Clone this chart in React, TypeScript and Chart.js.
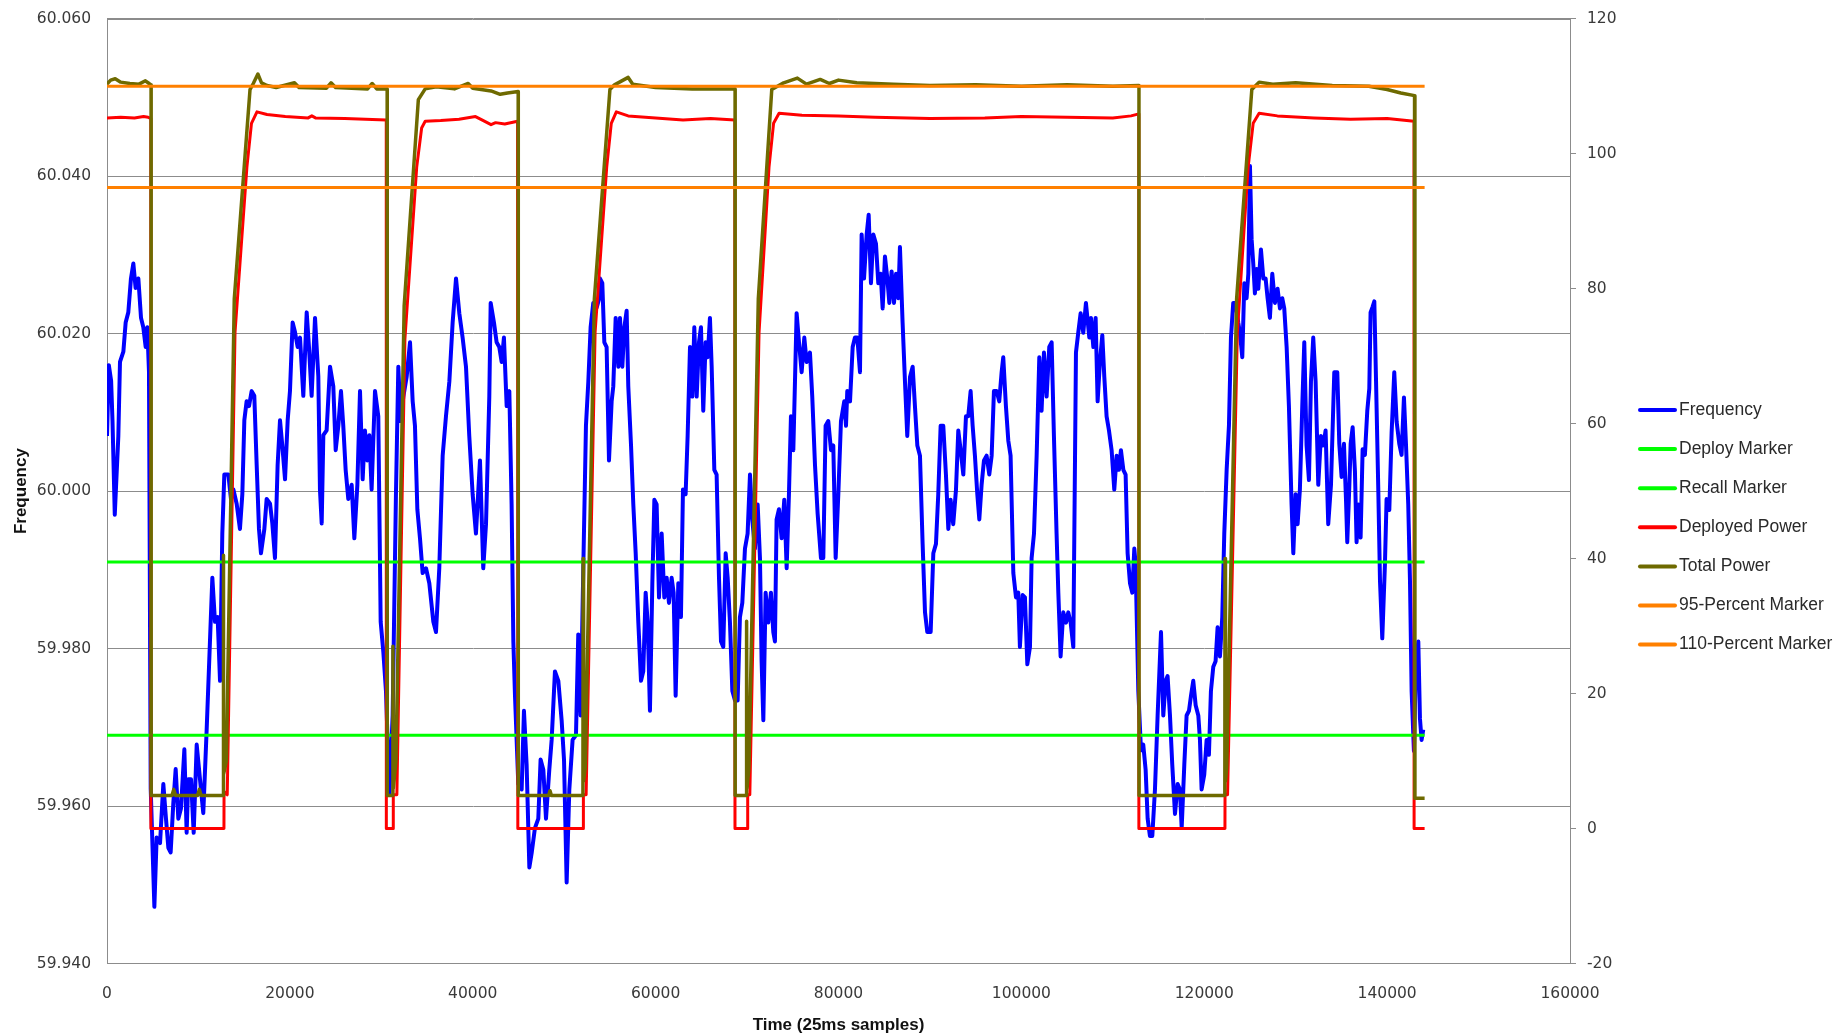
import React, { useEffect, useRef } from 'react';
import { Chart, registerables } from 'chart.js';

Chart.register(...registerables);

// ---- data (time in 25 ms samples) ----
const FREQUENCY: [number, number][] = [
  [0, 60.007], [200, 60.016], [450, 60.014], [600, 60.009], [850, 59.997], [1240, 60.007], [1420, 60.0164], [1790, 60.0177], [2040, 60.0214], [2330, 60.0227], [2620, 60.027], [2880, 60.0289], [3130, 60.0258], [3430, 60.027], [3720, 60.022], [3970, 60.0208], [4230, 60.0183], [4410, 60.0208], [4590, 60.0152], [4780, 59.9622], [5180, 59.9472], [5430, 59.956], [5800, 59.9553], [6160, 59.9628], [6450, 59.9584], [6710, 59.9547], [6960, 59.9541], [7250, 59.9603], [7510, 59.9647], [7800, 59.9584], [8090, 59.9597], [8460, 59.9672], [8710, 59.9566], [8890, 59.9634], [9190, 59.9634], [9480, 59.9566], [9810, 59.9678], [10170, 59.9634], [10530, 59.9591], [10900, 59.9697], [11260, 59.9809], [11520, 59.989], [11810, 59.9834], [12100, 59.984], [12360, 59.9759], [12610, 59.9946], [12830, 60.0021], [13270, 60.0021], [13560, 59.999], [13820, 60.0002], [14180, 59.9984], [14540, 59.9952], [14800, 59.9996], [15020, 60.009], [15270, 60.0114], [15530, 60.0108], [15820, 60.0127], [16110, 60.0121], [16370, 60.0033], [16620, 59.9952], [16840, 59.9921], [17210, 59.9952], [17460, 59.999], [17830, 59.9984], [18080, 59.9959], [18370, 59.9915], [18660, 60.0033], [18920, 60.009], [19170, 60.0058], [19470, 60.0015], [19760, 60.009], [20010, 60.0127], [20300, 60.0214], [20560, 60.0202], [20850, 60.0183], [21110, 60.0195], [21470, 60.0121], [21840, 60.0227], [22090, 60.0183], [22380, 60.0121], [22750, 60.022], [23110, 60.0146], [23290, 60.0002], [23480, 59.9959], [23660, 60.0071], [24020, 60.0077], [24390, 60.0158], [24750, 60.0133], [25010, 60.0052], [25300, 60.0083], [25590, 60.0127], [25840, 60.0083], [26100, 60.0027], [26390, 59.999], [26760, 60.0008], [27050, 59.994],
  [27380, 60.0008], [27670, 60.0127], [27960, 60.0015], [28210, 60.0077], [28470, 60.0039], [28690, 60.0071], [28940, 60.0002], [29310, 60.0127], [29670, 60.0095], [29930, 59.9834], [30220, 59.9796], [30510, 59.9746], [30880, 59.9615], [31240, 59.9715], [31600, 59.9996], [31860, 60.0158], [32110, 60.0089], [32410, 60.012], [32770, 60.0145], [33140, 60.0189], [33430, 60.0114], [33680, 60.0083], [33940, 59.9977], [34230, 59.994], [34520, 59.9896], [34890, 59.9902], [35250, 59.9883], [35690, 59.9834], [35980, 59.9821], [36340, 59.9902], [36710, 60.0045], [37070, 60.0095], [37440, 60.0139], [37800, 60.0214], [38170, 60.027], [38530, 60.0226], [38890, 60.0195], [39260, 60.0158], [39620, 60.007], [39990, 59.9996], [40350, 59.9946], [40790, 60.0039], [41150, 59.9902], [41450, 59.9958], [41810, 60.012], [41960, 60.0239], [42320, 60.0214], [42610, 60.0189], [42900, 60.0183], [43160, 60.0164], [43410, 60.0195], [43710, 60.0108], [44000, 60.0127], [44250, 59.9983], [44440, 59.9809], [44620, 59.974], [44980, 59.9628], [45350, 59.9621], [45600, 59.9721], [45890, 59.9653], [46190, 59.9522], [46440, 59.954], [46800, 59.9572], [47170, 59.9584], [47420, 59.9659], [47720, 59.9646], [48010, 59.9584], [48370, 59.9646], [48630, 59.9684], [48990, 59.9771], [49360, 59.9759], [49720, 59.9709], [49980, 59.9659], [50270, 59.9503], [50560, 59.9621], [50920, 59.9684], [51290, 59.969], [51540, 59.9818], [51800, 59.9715], [52090, 59.9902], [52380, 60.0083], [52640, 60.0139], [52890, 60.0208], [53180, 60.0239], [53550, 60.0233], [53840, 60.0245],
  [53920, 60.027], [54170, 60.0264], [54390, 60.0189], [54640, 60.0183], [54900, 60.0039], [55190, 60.0114], [55370, 60.0133], [55630, 60.022], [55920, 60.0158], [56100, 60.022], [56360, 60.0158], [56580, 60.0208], [56830, 60.0229], [57010, 60.0133], [57310, 60.0058], [57560, 59.9983], [57820, 59.9921], [58110, 59.9833], [58400, 59.9759], [58650, 59.9771], [58910, 59.9871], [59130, 59.9833], [59380, 59.9721], [59640, 59.9883], [59860, 59.9989], [60110, 59.9983], [60370, 59.9865], [60660, 59.9946], [60950, 59.9865], [61210, 59.989], [61460, 59.9858], [61750, 59.989], [61970, 59.9871], [62190, 59.974], [62480, 59.9883], [62770, 59.984], [62990, 60.0002], [63280, 59.9996], [63500, 60.007], [63760, 60.0183], [64010, 60.012], [64230, 60.0208], [64490, 60.012], [64740, 60.0189], [64960, 60.0208], [65210, 60.0102], [65470, 60.0189], [65690, 60.017], [65940, 60.022], [66130, 60.0158], [66420, 60.0027], [66670, 60.0021], [66930, 59.989], [67150, 59.9809], [67400, 59.9802], [67660, 59.9921], [67880, 59.989], [68130, 59.9833], [68390, 59.9746], [68680, 59.9734], [68970, 59.9734], [69220, 59.984], [69480, 59.9858], [69770, 59.9927], [70060, 59.9946], [70320, 60.0021], [70570, 59.9964], [70860, 59.9927], [71160, 59.9983], [71410, 59.9915], [71590, 59.9784], [71780, 59.9709], [72030, 59.9871], [72320, 59.9833], [72610, 59.9871], [72870, 59.9821], [73050, 59.9809], [73230, 59.9964], [73490, 59.9977], [73780, 59.994], [74070, 59.9989], [74330, 59.9902], [74580, 59.9996], [74800, 60.0095], [75060, 60.0052], [75240, 60.0139], [75420, 60.0226], [75680, 60.0189], [75970, 60.0151], [76260, 60.0195], [76510, 60.0164], [76880, 60.0176], [77130, 60.012], [77430, 60.0033], [77720, 59.9971], [78080, 59.9915], [78340, 59.9915], [78590, 60.0083], [78880, 60.0089], [79180, 60.0052], [79430, 60.0058], [79690, 59.9915], [79980, 59.9996], [80270, 60.0089], [80630, 60.0114],
  [80820, 60.0083], [80960, 60.0127], [81260, 60.0114], [81550, 60.0183], [81800, 60.0195], [82060, 60.0195], [82350, 60.0151], [82530, 60.0326], [82790, 60.027], [83080, 60.0326], [83300, 60.0351], [83550, 60.0264], [83810, 60.0326], [84100, 60.0314], [84350, 60.0264], [84610, 60.0276], [84830, 60.0232], [85080, 60.0298], [85340, 60.027], [85560, 60.0239], [85810, 60.0279], [86070, 60.0239], [86290, 60.0276], [86540, 60.0245], [86720, 60.031], [87010, 60.0214], [87270, 60.0139], [87520, 60.007], [87820, 60.0145], [88110, 60.0158], [88360, 60.0108], [88620, 60.0058], [88910, 60.0045], [89200, 59.9933], [89460, 59.9846], [89710, 59.9821], [90080, 59.9821], [90370, 59.9921], [90660, 59.9933], [90910, 59.9996], [91170, 60.0083], [91460, 60.0083], [91750, 60.0021], [92010, 59.9952], [92260, 59.9989], [92550, 59.9958], [92850, 60.0002], [93100, 60.0077], [93360, 60.0052], [93650, 60.0021], [93940, 60.0095], [94190, 60.0095], [94450, 60.0127], [94670, 60.0083], [94920, 60.0045], [95180, 59.9996], [95400, 59.9964], [95650, 60.0008], [95910, 60.0039], [96200, 60.0045], [96490, 60.0021], [96750, 60.0045], [97000, 60.0127], [97290, 60.0127], [97580, 60.0114], [97840, 60.0151], [98020, 60.017], [98310, 60.0108], [98570, 60.0064], [98820, 60.0045], [99120, 59.9896], [99410, 59.9865], [99660, 59.9871], [99840, 59.9802], [100140, 59.9868], [100390, 59.9865], [100650, 59.978], [100940, 59.9802], [101120, 59.9915], [101380, 59.9946], [101670, 60.0045], [101960, 60.017], [102210, 60.0102], [102470, 60.0176], [102760, 60.012], [103050, 60.0183], [103310, 60.0189], [103560, 60.007], [103850, 59.9946], [104040, 59.9871], [104290, 59.979], [104580, 59.9846], [104880, 59.9833], [105130, 59.9846], [105390, 59.9833], [105680, 59.9802], [105970, 60.0176], [106220, 60.0201], [106480, 60.0226], [106770, 60.0201], [107060, 60.0239], [107430, 60.0195],
  [107610, 60.022], [107870, 60.0183], [108120, 60.022], [108340, 60.0114], [108590, 60.0164], [108850, 60.0198], [109070, 60.0145], [109320, 60.0095], [109580, 60.0077], [109870, 60.0052], [110160, 60.0002], [110420, 60.0045], [110670, 60.0027], [110890, 60.0052], [111150, 60.0027], [111400, 60.0021], [111620, 59.9921], [111880, 59.9883], [112130, 59.9871], [112350, 59.9927], [112490, 59.9908], [112790, 59.9746], [113080, 59.9671], [113330, 59.9678], [113590, 59.9646], [113810, 59.9584], [114060, 59.9562], [114320, 59.9562], [114610, 59.9621], [114900, 59.9715], [115270, 59.9821], [115520, 59.9715], [115780, 59.9759], [115990, 59.9765], [116250, 59.9715], [116500, 59.9653], [116800, 59.959], [117090, 59.9628], [117340, 59.9621], [117530, 59.9572], [117820, 59.9653], [118070, 59.9715], [118330, 59.9721], [118550, 59.974], [118800, 59.9759], [119060, 59.9728], [119350, 59.9715], [119530, 59.9684], [119710, 59.9621], [120000, 59.964], [120260, 59.9684], [120510, 59.9665], [120730, 59.9746], [120990, 59.9777], [121240, 59.9784], [121460, 59.9827], [121720, 59.979], [121970, 59.984], [122190, 59.9946], [122450, 60.0027], [122700, 60.0083], [122920, 60.0195], [123170, 60.0239], [123430, 60.0239], [123720, 60.0214], [123900, 60.0201], [124160, 60.017], [124380, 60.0264], [124630, 60.0245], [124820, 60.0276], [125000, 60.0413], [125180, 60.032], [125360, 60.0289], [125540, 60.0251], [125730, 60.0282], [125910, 60.0257], [126200, 60.0307], [126460, 60.027], [126710, 60.027], [126930, 60.0245], [127180, 60.022], [127440, 60.0276], [127730, 60.0239], [128020, 60.0257], [128280, 60.0232], [128530, 60.0245], [128750, 60.0232], [129010, 60.0183], [129260, 60.0108], [129550, 59.9983], [129740, 59.9921], [129990, 59.9996], [130210, 59.9958], [130460, 60.0002], [130720, 60.0108], [130940, 60.0189], [131190, 60.0058], [131450, 60.0014], [131670, 60.0139], [131920, 60.0195], [132180, 60.0139], [132470, 60.0008], [132760, 60.007], [133020, 60.0058], [133270, 60.0077], [133560, 59.9958], [133860, 60.0008], [134220, 60.0151],
  [134550, 60.0151], [134770, 60.006], [135020, 60.0018], [135280, 60.006], [135500, 59.999], [135640, 59.9935], [135860, 60.0004], [136010, 60.006], [136230, 60.0081], [136480, 60.0025], [136660, 59.9935], [136850, 59.9983], [137100, 59.9941], [137320, 60.0053], [137570, 60.0046], [137830, 60.0102], [138050, 60.013], [138190, 60.0227], [138410, 60.0234], [138600, 60.0241], [138780, 60.0144], [139030, 60.0004], [139220, 59.9886], [139470, 59.9813], [139760, 59.9907], [139940, 59.999], [140240, 59.9976], [140490, 60.0074], [140780, 60.0151], [141040, 60.0088], [141330, 60.006], [141580, 60.0046], [141840, 60.0119], [142060, 60.006], [142310, 59.9983], [142500, 59.9886], [142680, 59.9746], [142930, 59.967], [143150, 59.9781], [143410, 59.9809], [143590, 59.9711], [143770, 59.9684], [143950, 59.9697],
];

const DEPLOYED_POWER: [number, number][] = [
  [0, 105.3], [1500, 105.4], [3000, 105.3], [4000, 105.5], [4500, 105.4], [4790, 105.2], [4800, 0],
  [12790, 0], [12800, 5.5], [13150, 5], [14000, 73.5], [15300, 98], [15800, 104.5], [16400, 106.2], [17500, 105.8], [19500, 105.5], [22000, 105.3], [22400, 105.6], [22800, 105.3], [26000, 105.2], [30540, 105.0], [30550, 0],
  [31300, 0], [31310, 5], [31700, 5], [32580, 72.5], [33870, 98], [34410, 103.8], [34800, 104.8], [36500, 104.9], [38500, 105.1], [40300, 105.5], [41000, 105.0], [42000, 104.3], [42500, 104.6], [43500, 104.4], [44900, 104.8], [44930, 0],
  [52090, 0], [52100, 5], [52400, 5], [53380, 73.5], [54650, 98], [55150, 104.5], [55700, 106.2], [57000, 105.6], [60000, 105.3], [63000, 105.0], [66000, 105.2], [68660, 105.0], [68680, 0],
  [70060, 0], [70070, 5], [70300, 5], [71310, 73.5], [72400, 98], [72900, 104.5], [73500, 106], [76000, 105.7], [80000, 105.6], [84000, 105.4], [90000, 105.2], [96000, 105.3], [100000, 105.5], [105000, 105.4], [110000, 105.3], [112000, 105.6], [112840, 105.9], [112850, 0],
  [122263, 0], [122273, 5], [122550, 5], [123620, 73.5], [124800, 98], [125350, 104.5], [126000, 106], [128000, 105.6], [132000, 105.3], [136000, 105.1], [140000, 105.2], [142940, 104.8], [142950, 0], [144100, 0],
];

const TOTAL_POWER: [number, number][] = [
  [0, 110.3], [400, 110.9], [900, 111.1], [1500, 110.6], [2500, 110.4], [3500, 110.3], [4200, 110.8], [4600, 110.4], [4820, 110.2], [4830, 4.9],
  [7100, 4.9], [7300, 5.8], [7500, 4.9], [9900, 4.9], [10100, 5.8], [10300, 4.9], [12700, 4.9],
  [12720, 40.5], [12760, 8], [13050, 10], [13920, 78.5], [15640, 109.5], [16000, 110.4], [16500, 111.8], [16900, 110.5], [17500, 110.1], [18500, 109.8], [20500, 110.5], [21000, 109.8], [24000, 109.7], [24500, 110.5], [25000, 109.8], [28500, 109.6], [29000, 110.4], [29500, 109.6], [30640, 109.6], [30650, 4.9],
  [31250, 4.9], [31270, 27], [31320, 6], [31600, 10], [32500, 77.5], [34050, 108], [34800, 109.6], [36000, 109.9], [38000, 109.6], [39500, 110.4], [40000, 109.7], [42000, 109.3], [43000, 108.8], [43800, 109.0], [44970, 109.2], [44980, 4.9],
  [48300, 4.9], [48450, 5.6], [48600, 4.9], [52050, 4.9], [52070, 40], [52120, 7], [52300, 9], [53300, 78.5], [55000, 109.5], [55500, 110.2], [57000, 111.3], [57500, 110.3], [60000, 109.8], [64000, 109.6], [68690, 109.6], [68700, 4.9],
  [69930, 4.9], [69950, 30.7], [70000, 6], [70200, 9], [71230, 78.5], [72700, 109.5], [74000, 110.5], [75500, 111.2], [76500, 110.3], [78000, 111.0], [79000, 110.4], [80000, 110.9], [82000, 110.5], [86000, 110.3], [90000, 110.1], [95000, 110.2], [100000, 110.0], [105000, 110.2], [110000, 110.0], [112860, 110.1], [112870, 4.9],
  [122250, 4.9], [122270, 40], [122320, 7], [122450, 9], [123540, 78.5], [125200, 109.5], [126000, 110.6], [127500, 110.3], [130000, 110.5], [134000, 110.1], [138000, 110.0], [140000, 109.5], [141500, 109.0], [143000, 108.6], [143040, 4.5], [144100, 4.5],
];

const MARKER_TIME = [0, 144100];
const DEPLOY_MARKER = 59.969;
const RECALL_MARKER = 59.991;
const PCT95_MARKER = 95;
const PCT110_MARKER = 110;

const GRID = '#8c8c8c';
const TICK_FONT = { family: '"DejaVu Sans", Verdana, sans-serif', size: 15.5 };
const TICK_COLOR = '#3a3a3a';
const TITLE_FONT = { family: '"Liberation Sans", Arial, sans-serif', size: 17, weight: 'bold' as const };

const toXY = (pairs: [number, number][]) => pairs.map(([x, y]) => ({ x, y }));
const flat = (v: number) => MARKER_TIME.map((t) => ({ x: t, y: v }));

const frame = {
  id: 'topFrame',
  beforeDatasetsDraw(chart: any) {
    const { ctx, chartArea } = chart;
    ctx.save();
    ctx.strokeStyle = GRID;
    ctx.lineWidth = 1;
    ctx.beginPath();
    ctx.moveTo(chartArea.left, Math.round(chartArea.top) + 0.5);
    ctx.lineTo(chartArea.right, Math.round(chartArea.top) + 0.5);
    ctx.stroke();
    ctx.restore();
  },
};

const sideLegend = {
  id: 'sideLegend',
  afterDraw(chart: any) {
    const ctx = chart.ctx;
    ctx.save();
    ctx.font = '17.5px "Liberation Sans", Arial, sans-serif';
    ctx.textBaseline = 'middle';
    ctx.textAlign = 'left';
    ctx.lineCap = 'round';
    chart.data.datasets.forEach((ds: any, i: number) => {
      const y = 410 + i * 39.1;
      ctx.strokeStyle = ds.borderColor;
      ctx.lineWidth = 4;
      ctx.beginPath();
      ctx.moveTo(1640, y);
      ctx.lineTo(1675, y);
      ctx.stroke();
      ctx.fillStyle = '#2a2a2a';
      ctx.fillText(ds.label, 1679, y);
    });
    ctx.restore();
  },
};

const noVerticalPad = (s: any) => {
  s.paddingTop = 0;
  s.paddingBottom = 0;
};

export default function App() {
  const ref = useRef<HTMLCanvasElement | null>(null);
  useEffect(() => {
    if (!ref.current) return;
    const common = { pointRadius: 0, pointHoverRadius: 0, tension: 0, fill: false, borderJoinStyle: 'round' as const };
    const chart = new Chart(ref.current, {
      type: 'line',
      data: {
        datasets: [
          { ...common, label: 'Frequency', data: toXY(FREQUENCY), yAxisID: 'y', borderColor: '#0000FF', borderWidth: 4, order: 7 },
          { ...common, label: 'Deploy Marker', data: flat(DEPLOY_MARKER), yAxisID: 'y', borderColor: '#00FF00', borderWidth: 3, order: 6 },
          { ...common, label: 'Recall Marker', data: flat(RECALL_MARKER), yAxisID: 'y', borderColor: '#00FF00', borderWidth: 3, order: 5 },
          { ...common, label: 'Deployed Power', data: toXY(DEPLOYED_POWER), yAxisID: 'y1', borderColor: '#FF0000', borderWidth: 3, order: 4 },
          { ...common, label: 'Total Power', data: toXY(TOTAL_POWER), yAxisID: 'y1', borderColor: '#6E6A00', borderWidth: 3.5, order: 3 },
          { ...common, label: '95-Percent Marker', data: flat(PCT95_MARKER), yAxisID: 'y1', borderColor: '#FF8000', borderWidth: 3, order: 2 },
          { ...common, label: '110-Percent Marker', data: flat(PCT110_MARKER), yAxisID: 'y1', borderColor: '#FF8000', borderWidth: 3, order: 1 },
        ],
      },
      options: {
        animation: false,
        responsive: false,
        events: [],
        layout: { padding: { top: 18.7, right: 207, bottom: 0, left: 0 } },
        plugins: { legend: { display: false }, tooltip: { enabled: false } },
        scales: {
          x: {
            type: 'linear',
            min: 0,
            max: 160000,
            ticks: { stepSize: 20000, padding: 21, font: TICK_FONT, color: TICK_COLOR, maxRotation: 0, autoSkip: false, callback: (v: any) => String(v) },
            grid: { display: false, drawTicks: false },
            border: { display: true, color: GRID },
            title: { display: true, text: 'Time (25ms samples)', font: TITLE_FONT, color: '#111111', padding: { top: 0, bottom: 0 } },
            afterFit: (s: any) => { s.height = 72.5; },
          },
          y: {
            type: 'linear',
            position: 'left',
            min: 59.94,
            max: 60.06,
            ticks: { stepSize: 0.02, padding: 16, font: TICK_FONT, color: TICK_COLOR, callback: (v: any) => Number(v).toFixed(3) },
            grid: { color: GRID, drawTicks: false },
            border: { display: true, color: GRID },
            title: { display: true, text: 'Frequency', font: TITLE_FONT, color: '#111111', padding: { top: 11, bottom: 0 } },
            afterFit: (s: any) => { s.width = 107; noVerticalPad(s); },
          },
          y1: {
            type: 'linear',
            position: 'right',
            min: -20,
            max: 120,
            ticks: { stepSize: 20, padding: 11, font: TICK_FONT, color: TICK_COLOR },
            grid: { drawOnChartArea: false, drawTicks: true, tickLength: 6, color: GRID },
            border: { display: true, color: GRID },
            afterFit: (s: any) => { s.width = 60; noVerticalPad(s); },
          },
        },
      },
      plugins: [frame, sideLegend],
    } as any);
    return () => chart.destroy();
  }, []);
  return (
    <div style={{ position: 'absolute', left: 0, top: 0, width: 1837, height: 1036, background: '#ffffff' }}>
      <canvas ref={ref} width={1837} height={1036} style={{ display: 'block', width: 1837, height: 1036 }} />
    </div>
  );
}
